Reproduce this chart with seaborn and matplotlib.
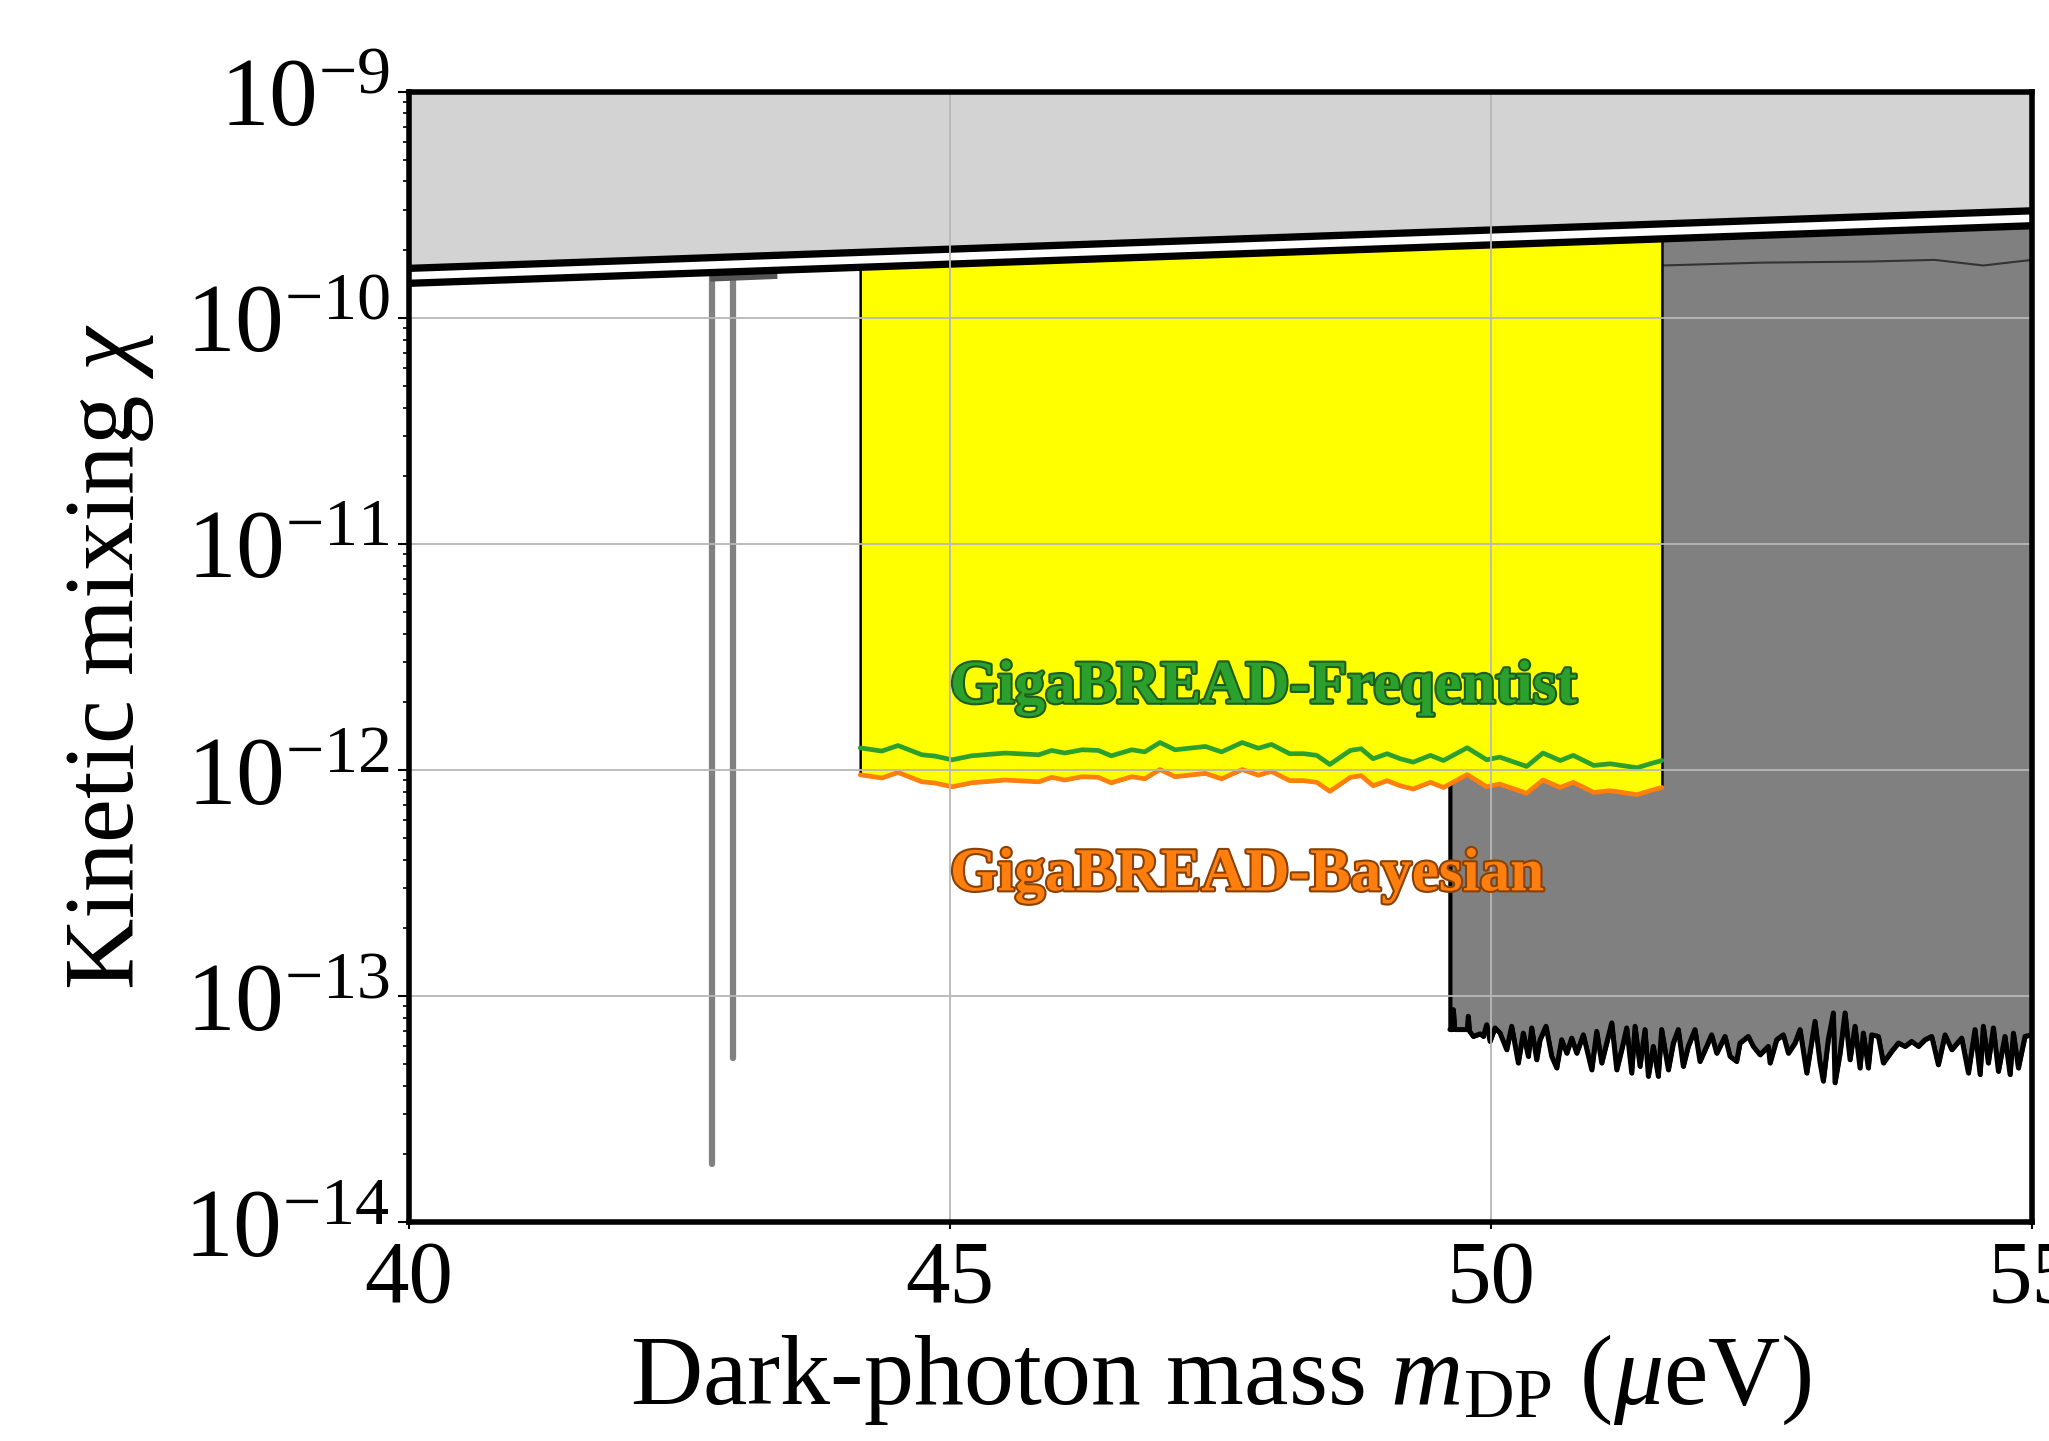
import numpy as np
import pandas as pd
import matplotlib
matplotlib.use("Agg")
import matplotlib.pyplot as plt
import matplotlib.patheffects as pe
from matplotlib.ticker import LogLocator, LogFormatterSciNotation, NullFormatter
import seaborn as sns

# ---------------- data ----------------
# existing limit band (lower edge of light-gray excluded region)
band_x = [40.0, 55.0]
band_chi = [1.53e-10, 2.75e-10]

# narrow gray dips
dip_x = [42.80, 42.99]
dip_bottom = [1.8e-14, 5.3e-14]
dip_top = [3.0e-10, 3.0e-10]
sliver_x = [42.78, 43.40]
sliver_lo = [1.45e-10, 1.49e-10]
sliver_hi = [1.70e-10, 1.75e-10]

# GigaBREAD limits
gb_x = [44.17, 44.37, 44.52, 44.74, 44.86, 45.02, 45.20, 45.51, 45.82, 45.94,
        46.06, 46.22, 46.37, 46.49, 46.68, 46.80, 46.94, 47.08, 47.36, 47.51,
        47.70, 47.85, 47.97, 48.14, 48.27, 48.39, 48.51, 48.70, 48.80, 48.91,
        49.04, 49.16, 49.28, 49.44, 49.56, 49.78, 49.96, 50.08, 50.33, 50.48,
        50.64, 50.76, 50.95, 51.10, 51.35, 51.47, 51.58]
freq_chi_e12 = [1.25, 1.21, 1.28, 1.165, 1.15, 1.107, 1.153, 1.186, 1.165, 1.218,
                1.186, 1.226, 1.218, 1.153, 1.226, 1.20, 1.32, 1.226, 1.268, 1.20,
                1.32, 1.245, 1.295, 1.178, 1.178, 1.158, 1.056, 1.218, 1.239, 1.119,
                1.178, 1.119, 1.081, 1.158, 1.099, 1.252, 1.107, 1.138, 1.035, 1.186,
                1.099, 1.158, 1.045, 1.063, 1.021, 1.063, 1.099]
bayes_chi_e12 = [0.95, 0.92, 0.973, 0.885, 0.874, 0.841, 0.876, 0.901, 0.885, 0.926,
                 0.901, 0.932, 0.926, 0.876, 0.932, 0.912, 1.003, 0.932, 0.964, 0.912,
                 1.003, 0.946, 0.984, 0.895, 0.895, 0.880, 0.803, 0.926, 0.942, 0.850,
                 0.895, 0.850, 0.822, 0.880, 0.835, 0.952, 0.841, 0.865, 0.787, 0.901,
                 0.835, 0.880, 0.794, 0.808, 0.776, 0.808, 0.835]

# dark-gray excluded region (lower edge)
dg_x = [49.62, 49.64, 49.652, 49.665, 49.78, 49.79, 49.80, 49.836, 49.90, 49.929,
        49.96, 49.991, 50.037, 50.083, 50.145, 50.191, 50.252, 50.298, 50.345, 50.376,
        50.422, 50.453, 50.508, 50.561, 50.607, 50.653, 50.700, 50.746, 50.792, 50.853,
        50.931, 50.977, 51.023, 51.069, 51.116, 51.162, 51.208, 51.254, 51.300, 51.331,
        51.377, 51.423, 51.454, 51.500, 51.546, 51.577, 51.639, 51.685, 51.731, 51.777,
        51.823, 51.885, 51.931, 51.993, 52.039, 52.086, 52.163, 52.209, 52.270, 52.301,
        52.378, 52.424, 52.486, 52.563, 52.579, 52.640, 52.702, 52.748, 52.810, 52.856,
        52.918, 52.994, 53.041, 53.071, 53.117, 53.164, 53.179, 53.226, 53.272, 53.318,
        53.364, 53.410, 53.441, 53.487, 53.518, 53.580, 53.626, 53.703, 53.765, 53.826,
        53.888, 53.950, 54.011, 54.073, 54.134, 54.196, 54.258, 54.350, 54.412, 54.473,
        54.520, 54.550, 54.596, 54.643, 54.689, 54.750, 54.797, 54.828, 54.874, 54.935,
        55.0]
dg_chi_e14 = [7.1, 7.1, 8.7, 7.1, 7.1, 8.13, 7.0, 6.62, 6.8, 6.62,
              7.46, 6.29, 7.22, 6.85, 5.78, 7.34, 5.05, 6.85, 5.40, 7.22,
              5.22, 6.40, 7.34, 5.40, 4.80, 6.40, 5.58, 6.51, 5.58, 6.73,
              4.71, 6.97, 5.05, 6.19, 7.60, 4.71, 5.78, 7.22, 4.56, 7.34,
              4.88, 7.10, 4.41, 5.98, 4.41, 7.10, 4.71, 6.19, 7.10, 4.88,
              5.98, 7.10, 5.13, 5.98, 6.73, 5.58, 6.62, 5.40, 5.13, 6.19,
              6.62, 5.98, 5.49, 5.98, 5.05, 6.40, 6.73, 5.58, 6.19, 7.10,
              4.56, 7.72, 5.05, 4.20, 6.40, 8.41, 4.13, 5.58, 8.41, 5.22,
              7.34, 4.80, 6.85, 4.80, 6.73, 6.62, 5.05, 5.68, 6.19, 5.98,
              6.29, 5.98, 6.40, 6.62, 4.96, 6.73, 5.78, 6.51, 4.56, 7.10,
              4.49, 7.34, 5.05, 7.22, 4.64, 6.62, 4.49, 6.85, 4.80, 6.62,
              6.73]

thin_x = [51.58, 52.5, 53.5, 54.1, 54.55, 55.0]
thin_chi = [1.70e-10, 1.75e-10, 1.77e-10, 1.80e-10, 1.70e-10, 1.80e-10]

x_ticks = [40, 45, 50, 55]
x_lim = (40, 55)
y_lim = (1e-14, 1e-9)

label_freq = "GigaBREAD-Freqentist"
label_bayes = "GigaBREAD-Bayesian"

# ---------------- style ----------------
sns.set_theme(style="ticks")
plt.rcParams["font.family"] = ["Liberation Serif", "DejaVu Serif"]
plt.rcParams["mathtext.fontset"] = "custom"
plt.rcParams["mathtext.rm"] = "Liberation Serif"
plt.rcParams["mathtext.it"] = "Liberation Serif:italic"
plt.rcParams["mathtext.bf"] = "Liberation Serif:bold"
for k in ["text.color", "axes.labelcolor", "xtick.color", "ytick.color", "axes.edgecolor"]:
    plt.rcParams[k] = "black"

fig = plt.figure(figsize=(20.49, 14.41), dpi=100)
ax = fig.add_axes([0.1996, 0.152, 0.7921, 0.7845])
ax.set_yscale("log")
ax.set_xlim(*x_lim)
ax.set_ylim(*y_lim)

freq = np.array(freq_chi_e12) * 1e-12
bayes = np.array(bayes_chi_e12) * 1e-12
dg = np.array(dg_chi_e14) * 1e-14

# dark gray region
ax.fill_between(dg_x, dg, 1e-9, color="#808080", edgecolor="black", linewidth=3, zorder=1.0)
sns.lineplot(x=dg_x, y=dg, ax=ax, color="black", lw=3.5, estimator=None, sort=False, zorder=1.05)
sns.lineplot(x=thin_x, y=thin_chi, ax=ax, color="#333333", lw=1.5, estimator=None, sort=False, zorder=1.05)

# yellow GigaBREAD region
ax.fill_between(gb_x, bayes, 1e-9, color="#ffff00", edgecolor="black", linewidth=1.8, zorder=1.1)
sns.lineplot(x=gb_x, y=freq, ax=ax, color="#2ca02c", lw=3.4, estimator=None, sort=False, zorder=2)
sns.lineplot(x=gb_x, y=bayes, ax=ax, color="#ff7f0e", lw=3.4, estimator=None, sort=False, zorder=2)

# narrow gray dips
for xd, yb, yt in zip(dip_x, dip_bottom, dip_top):
    ax.plot([xd, xd], [yb, yt], color="#808080", lw=4.5, solid_capstyle="round", zorder=1.2)
ax.fill_between(sliver_x, sliver_lo, sliver_hi, color="#555555", lw=0, zorder=1.2)

# light gray region and band
ax.fill_between(band_x, band_chi, 1e-9, color="#d3d3d3", lw=0, zorder=1.5)
ax.plot(band_x, band_chi, color="black", lw=16, solid_capstyle="butt", zorder=2.2)
ax.plot(band_x, band_chi, color="white", lw=5.5, solid_capstyle="butt", zorder=2.3)

# annotations
ax.text(45.0, 1.98e-12, label_freq, color="#2ca02c", fontsize=44, fontweight="bold",
        ha="left", va="baseline", zorder=3,
        path_effects=[pe.withStroke(linewidth=3, foreground="#1d5e1d")])
ax.text(45.0, 2.93e-13, label_bayes, color="#ff7f0e", fontsize=44, fontweight="bold",
        ha="left", va="baseline", zorder=3,
        path_effects=[pe.withStroke(linewidth=3, foreground="#8a4000")])

# axes cosmetics
ax.set_axisbelow(False)
ax.grid(True, which="major", color="#b8b8b8", lw=1.3)
ax.set_xticks(x_ticks)
ax.set_xticklabels([str(t) for t in x_ticks])
ax.yaxis.set_major_locator(LogLocator(base=10, numticks=10))
ax.yaxis.set_major_formatter(LogFormatterSciNotation())
ax.yaxis.set_minor_locator(LogLocator(base=10, subs=np.arange(2, 10), numticks=20))
ax.yaxis.set_minor_formatter(NullFormatter())
ax.tick_params(axis="x", which="major", labelsize=64, direction="out", width=1.5,
               length=5, pad=8, colors="black")
ax.tick_params(axis="y", which="major", labelsize=70, direction="out", width=1.5,
               length=8, pad=6, colors="black")
ax.tick_params(axis="y", which="minor", length=4, width=1.2, direction="out", colors="black")
for s in ax.spines.values():
    s.set_linewidth(4)
    s.set_color("black")
    s.set_zorder(4)

ax.set_xlabel(r"Dark-photon mass $m_{\mathrm{DP}}$ ($\mu$eV)", fontsize=72, labelpad=8)
ax.set_ylabel(r"Kinetic mixing $\chi$", fontsize=71, labelpad=20)

fig.savefig("out.png", dpi=100)
